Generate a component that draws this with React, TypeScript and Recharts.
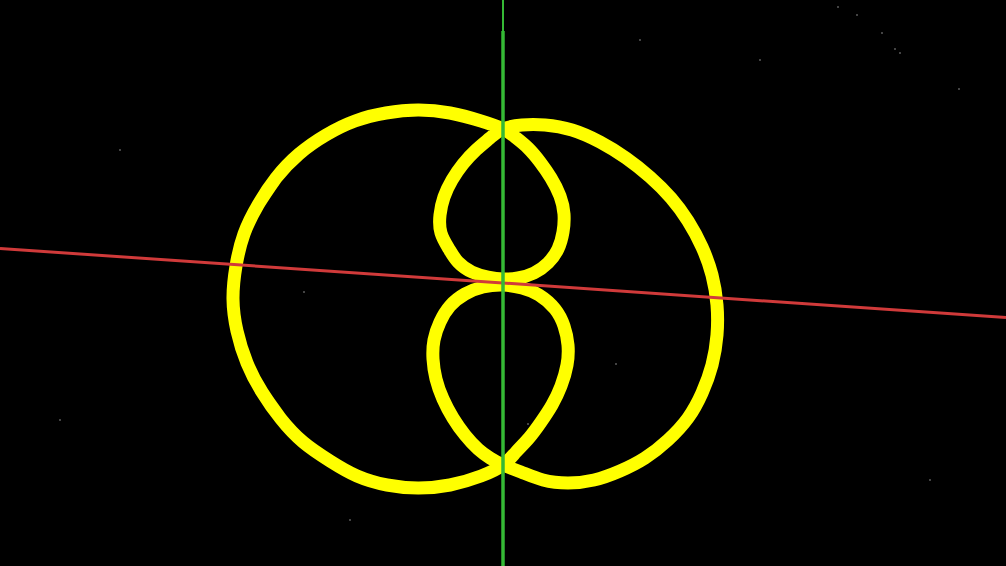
import React from "react";
import { ComposedChart, Line, Scatter, XAxis, YAxis } from "recharts";

// one closed curve in screen pixels (y grows downward)
// order: left arc (lower half) -> bottom loop -> right arc -> top loop -> left arc (upper half)
const curveX = [
  233, 237, 247, 262, 281, 303, 330, 357, 387, 418, 450, 481,
  503, 516, 529, 541, 552, 561, 567, 568, 564, 555, 539, 522,
  503, 483, 465, 450, 440, 434, 433, 436, 443, 453, 465, 478, 490,
  503, 521, 543, 568, 594, 620, 645, 668, 688, 702, 712, 717, 717, 712, 702, 688, 671, 650, 626, 600, 572, 545, 522,
  503, 490, 476, 463, 452, 444, 440, 441, 449, 458, 472, 488,
  503, 518, 534, 548, 558, 563, 564, 560, 551, 540, 528, 515,
  503, 481, 450, 418, 386, 355, 326, 299, 276, 258, 244, 236,
];
const curveY = [
  299, 331, 363, 392, 419, 442, 461, 476, 485, 488, 485, 476,
  465, 452, 438, 422, 405, 386, 365, 345, 326, 309, 295, 288,
  285, 287, 294, 306, 322, 340, 359, 379, 399, 418, 435, 449, 458,
  465, 472, 480, 483, 480, 471, 458, 440, 418, 393, 365, 335, 305, 275, 247, 221, 198, 177, 158, 142, 130, 125, 125,
  129, 138, 150, 164, 180, 197, 215, 233, 249, 262, 272, 277,
  279, 278, 273, 263, 249, 232, 214, 196, 178, 162, 148, 137,
  129, 121, 113, 110, 113, 121, 135, 154, 178, 205, 234, 266,
];

const redAxis = [
  { x: 0, y: 248.5 },
  { x: 1006, y: 317.5 },
];
const greenTop = [
  { x: 503, y: 0 },
  { x: 503, y: 31 },
];
const greenAxis = [
  { x: 503, y: 31 },
  { x: 503, y: 566 },
];

// a few of the faint background dots
const starX = [882, 838, 857, 895, 900, 959, 304, 616, 528, 120, 760, 640, 60, 350, 930];
const starY = [33, 7, 15, 49, 53, 89, 292, 364, 424, 150, 60, 40, 420, 520, 480];

// the curve is closed: run a few points past the seam on both sides so the spline has no loose ends
const n = curveX.length;
const wrap = 4;
const curve = Array.from({ length: n + 2 * wrap + 1 }, (_, k) => {
  const i = (k - wrap + n) % n;
  return { x: curveX[i], y: curveY[i] };
});
const stars = starX.map((x, i) => ({ x, y: starY[i] }));

export default function App() {
  return (
    <div style={{ position: "absolute", left: 0, top: 0, width: 1006, height: 566, background: "#000" }}>
      <ComposedChart width={1006} height={566} margin={{ top: 0, right: 0, bottom: 0, left: 0 }}>
        <XAxis type="number" dataKey="x" domain={[0, 1006]} hide />
        <YAxis type="number" dataKey="y" domain={[0, 566]} reversed hide />
        <Scatter
          data={stars}
          shape={(p: any) => <circle cx={p.cx} cy={p.cy} r={1} fill="#5a5a5a" />}
          isAnimationActive={false}
        />
        <Line
          data={curve}
          dataKey="y"
          type="natural"
          stroke="#ffff00"
          strokeWidth={13}
          strokeLinejoin="round"
          strokeLinecap="round"
          dot={false}
          activeDot={false}
          isAnimationActive={false}
        />
        <Line data={redAxis} dataKey="y" type="linear" stroke="#d03a3a" strokeWidth={3} dot={false} activeDot={false} isAnimationActive={false} />
        <Line data={greenTop} dataKey="y" type="linear" stroke="#35b935" strokeWidth={2} dot={false} activeDot={false} isAnimationActive={false} />
        <Line data={greenAxis} dataKey="y" type="linear" stroke="#35b935" strokeWidth={3.5} dot={false} activeDot={false} isAnimationActive={false} />
      </ComposedChart>
    </div>
  );
}
